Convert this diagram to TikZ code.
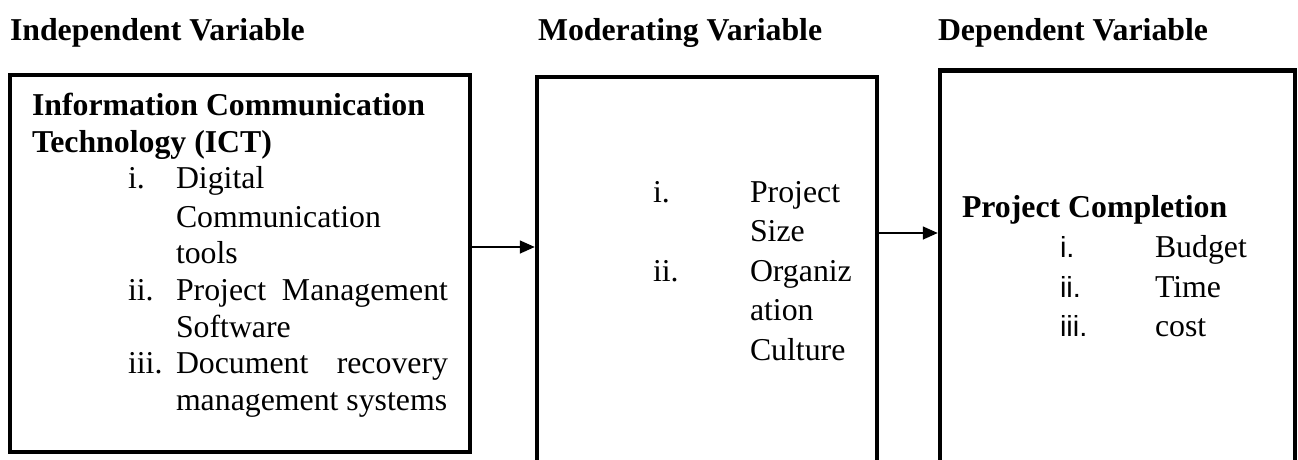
\documentclass[tikz,border=0pt]{standalone}
\usepackage{fontspec}
\setmainfont{Liberation Serif}
\newfontfamily\arialfont{Liberation Sans}
\usetikzlibrary{arrows.meta}
\tikzset{
  boxframe/.style={draw=black, line width=4.5pt, fill=none, inner sep=0pt},
  txt/.style={anchor=base west, inner sep=0pt, outer sep=0pt, font=\fontsize{31.8}{36}\selectfont},
  btxt/.style={txt, font=\fontsize{31.8}{36}\selectfont\bfseries},
  stxt/.style={anchor=base west, inner sep=0pt, outer sep=0pt, font=\fontsize{29}{34}\selectfont\arialfont},
  arr/.style={draw=black, line width=1.6pt, -{Triangle[length=15pt,width=13pt]}}
}
\begin{document}
\begin{tikzpicture}[x=1pt,y=-1pt]
\useasboundingbox (0,0) rectangle (1298,459);
\clip (0,0) rectangle (1298,459);
\fill[white] (0,0) rectangle (1298,459);

% headings
\node[btxt] (h1) at (10,40) {Independent Variable};
\node[btxt] (h2) at (538,40) {Moderating Variable};
\node[btxt] (h3) at (938,40) {Dependent Variable};

% boxes
\node[boxframe, minimum width=460pt, minimum height=377pt] (b1) at (240,263.5) {};
\node[boxframe, minimum width=340pt, minimum height=420pt] (b2) at (707,287) {};
\node[boxframe, minimum width=355pt, minimum height=420pt] (b3) at (1117.5,280.5) {};

% box 1 text
\node[btxt] (t1a) at (32,115) {Information Communication};
\node[btxt] (t1b) at (32,152) {Technology (ICT)};
\node[txt] (l1i) at (128,188) {i.};
\node[txt] (t1c) at (176,188) {Digital};
\node[txt] (t1d) at (176,227) {Communication};
\node[txt] (t1e) at (176,263) {tools};
\node[txt] (l1ii) at (128,300) {ii.};
\node[txt] (t1f) at (176,300) {\makebox[272pt][s]{Project Management}};
\node[txt] (t1g) at (176,337) {Software};
\node[txt] (l1iii) at (128,373) {iii.};
\node[txt] (t1h) at (176,373) {\makebox[272pt][s]{Document recovery}};
\node[txt] (t1i) at (176,410) {management systems};

% box 2 text
\node[txt] (l2i) at (653,202) {i.};
\node[txt] (t2a) at (750,202) {Project};
\node[txt] (t2b) at (750,241) {Size};
\node[txt] (l2ii) at (653,281) {ii.};
\node[txt] (t2c) at (750,281) {Organiz};
\node[txt] (t2d) at (750,320) {ation};
\node[txt] (t2e) at (750,360) {Culture};

% box 3 text
\node[btxt] (t3a) at (962,217) {Project Completion};
\node[stxt] (l3i) at (1060,257) {i.};
\node[txt] (t3b) at (1155,257) {Budget};
\node[stxt] (l3ii) at (1060,297) {ii.};
\node[txt] (t3c) at (1155,297) {Time};
\node[stxt] (l3iii) at (1060,336) {iii.};
\node[txt] (t3d) at (1155,336) {cost};

% connectors
\coordinate (y1) at (0,247);
\coordinate (y2) at (0,233);
\draw[arr] (b1.east |- y1) -- (b2.west |- y1);
\draw[arr] (b2.east |- y2) -- (b3.west |- y2);
\end{tikzpicture}
\end{document}
